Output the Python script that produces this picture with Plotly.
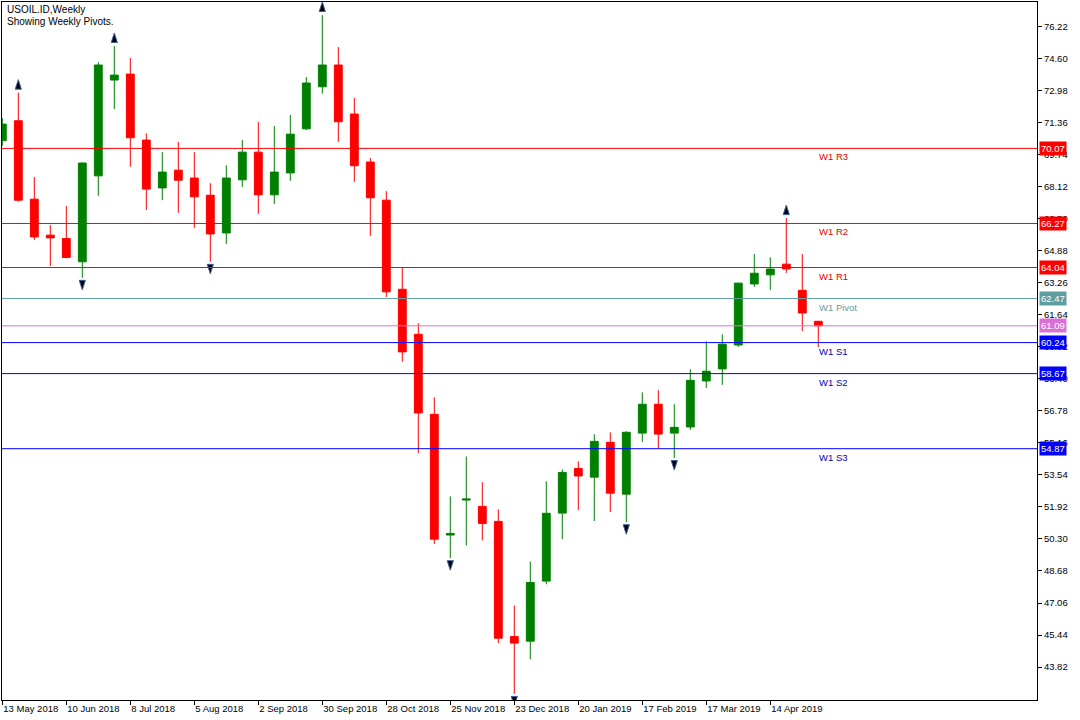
import pandas as pd
import plotly.graph_objects as go

# ---------------- data ----------------
title_line1 = "USOIL.ID,Weekly"
title_line2 = "Showing Weekly Pivots."
first_week = "2018-05-13"

open_ = [70.46, 71.47, 67.50, 65.68, 65.51, 64.33, 68.68, 73.53, 73.83, 70.49,
         68.07, 68.97, 68.57, 67.70, 65.79, 68.48, 69.88, 67.72, 68.83, 71.06,
         73.19, 74.29, 71.81, 69.38, 67.45, 62.94, 60.66, 56.61, 50.50, 52.27,
         51.95, 51.19, 45.36, 45.13, 48.17, 51.61, 53.87, 53.43, 55.19, 52.57,
         55.66, 57.12, 55.66, 55.97, 58.30, 58.91, 60.12, 63.21, 63.67, 64.21,
         62.89, 61.32]
high = [71.60, 72.89, 68.62, 66.19, 67.15, 69.35, 74.43, 75.25, 74.65, 70.83,
        69.88, 70.39, 69.88, 68.31, 69.22, 70.49, 71.40, 71.20, 71.76, 73.68,
        76.82, 75.20, 72.62, 69.58, 67.91, 64.03, 61.22, 57.47, 52.46, 54.48,
        53.17, 51.80, 46.93, 49.16, 53.22, 53.82, 54.23, 55.60, 55.70, 55.75,
        57.72, 57.83, 57.12, 58.89, 60.31, 60.66, 63.27, 64.72, 64.56, 66.54,
        64.72, 61.32]
low = [70.20, 67.37, 65.43, 64.11, 64.51, 63.52, 67.67, 72.06, 69.14, 66.95,
       67.45, 66.81, 66.05, 64.33, 65.24, 68.12, 66.76, 67.26, 68.43, 71.00,
       72.84, 70.40, 68.38, 65.64, 62.55, 59.27, 54.65, 50.04, 49.33, 49.97,
       50.23, 45.03, 42.46, 44.21, 48.01, 50.29, 51.76, 51.21, 51.66, 51.15,
       55.21, 54.87, 54.40, 55.82, 57.94, 58.10, 60.02, 63.06, 62.91, 63.77,
       60.83, 60.02]
close = [71.30, 67.45, 65.59, 65.54, 64.55, 69.33, 74.29, 73.78, 70.61, 68.01,
         68.87, 68.46, 67.62, 65.74, 68.57, 69.88, 67.72, 68.87, 70.79, 73.38,
         74.29, 71.42, 69.19, 67.57, 62.81, 59.77, 56.68, 50.29, 50.58, 52.32,
         51.09, 45.28, 45.03, 48.10, 51.60, 53.67, 53.49, 55.24, 52.62, 55.70,
         57.12, 55.61, 55.95, 58.33, 58.79, 60.16, 63.25, 63.75, 63.96, 63.97,
         61.74, 61.09]

fractal_up_idx = [1, 7, 20, 49]
fractal_down_idx = [5, 13, 28, 32, 39, 42]

x_tick_labels = ["13 May 2018", "10 Jun 2018", "8 Jul 2018", "5 Aug 2018",
                 "2 Sep 2018", "30 Sep 2018", "28 Oct 2018", "25 Nov 2018",
                 "23 Dec 2018", "20 Jan 2019", "17 Feb 2019", "17 Mar 2019",
                 "14 Apr 2019"]
y_tick_values = [76.22, 74.60, 72.98, 71.36, 69.74, 68.12, 66.50, 64.88, 63.26,
                 61.64, 60.02, 58.40, 56.78, 55.16, 53.54, 51.92, 50.30, 48.68,
                 47.06, 45.44, 43.82]

pivot_names = ["W1 R3", "W1 R2", "W1 R1", "W1 Pivot", "W1 S1", "W1 S2", "W1 S3"]
pivot_levels = [70.07, 66.27, 64.04, 62.47, 60.24, 58.67, 54.87]
pivot_line_colors = ["#FF0000", "#FF0000", "#FF0000", "#5F9EA0",
                     "#0000FF", "#0000FF", "#0000FF"]
pivot_text_colors = ["#E00000", "#E00000", "#E00000", "#5F9EA0",
                     "#0000B0", "#0000B0", "#0000B0"]
bid_price = 61.09
bid_color = "#DA70D6"

# ---------------- figure ----------------
FONT = "Liberation Sans, Arial, sans-serif"
dates = pd.date_range(first_week, periods=len(open_), freq="7D")
tick_dates = pd.date_range(first_week, periods=len(x_tick_labels), freq="28D")
week = pd.Timedelta(days=7)

fig = go.Figure()
fig.add_trace(go.Candlestick(
    x=dates, open=open_, high=high, low=low, close=close,
    increasing=dict(line=dict(color="#008000", width=1), fillcolor="#008000"),
    decreasing=dict(line=dict(color="#FF0000", width=1), fillcolor="#FF0000"),
    whiskerwidth=0, showlegend=False, hoverinfo="skip",
))

up_off = 0.66
dn_off = 0.61
fig.add_trace(go.Scatter(
    x=[dates[i] for i in fractal_up_idx],
    y=[high[i] + up_off for i in fractal_up_idx],
    mode="markers",
    marker=dict(symbol="arrow", angle=0, size=10, color="#000000",
                line=dict(width=1, color="#4060A0")),
    showlegend=False, hoverinfo="skip",
))
fig.add_trace(go.Scatter(
    x=[dates[i] for i in fractal_down_idx],
    y=[low[i] - dn_off for i in fractal_down_idx],
    mode="markers",
    marker=dict(symbol="arrow", angle=180, size=10, color="#000000",
                line=dict(width=1, color="#4060A0")),
    showlegend=False, hoverinfo="skip",
))

# pivot lines and labels
for name, lvl, lc, tc in zip(pivot_names, pivot_levels, pivot_line_colors, pivot_text_colors):
    fig.add_hline(y=lvl, line=dict(color=lc, width=1), layer="above")
    fig.add_annotation(x=dates[-1], y=lvl, xref="x", yref="y", text=name,
                       showarrow=False, xanchor="left", yanchor="top",
                       xshift=-1, yshift=-1,
                       font=dict(family=FONT, size=9.5, color=tc))
    fig.add_annotation(x=1, y=lvl, xref="paper", yref="y", text=f"{lvl:.2f}",
                       showarrow=False, xanchor="left", yanchor="middle",
                       xshift=2, bgcolor=lc, borderpad=1,
                       font=dict(family=FONT, size=9.5, color="#FFFFFF"))

fig.add_hline(y=bid_price, line=dict(color=bid_color, width=1), layer="above")
fig.add_annotation(x=1, y=bid_price, xref="paper", yref="y", text=f"{bid_price:.2f}",
                   showarrow=False, xanchor="left", yanchor="middle",
                   xshift=2, bgcolor=bid_color, borderpad=1,
                   font=dict(family=FONT, size=9.5, color="#FFFFFF"))

# title
fig.add_annotation(x=0, y=1, xref="paper", yref="paper", text=title_line1,
                   showarrow=False, xanchor="left", yanchor="top", xshift=3, yshift=0,
                   font=dict(family=FONT, size=10, color="#000000"))
fig.add_annotation(x=0, y=1, xref="paper", yref="paper", text=title_line2,
                   showarrow=False, xanchor="left", yanchor="top", xshift=3, yshift=-12,
                   font=dict(family=FONT, size=10, color="#000000"))

fig.update_layout(
    width=1080, height=720,
    margin=dict(l=2, r=43, t=2, b=20),
    paper_bgcolor="#FFFFFF", plot_bgcolor="#FFFFFF",
    font=dict(family=FONT, size=9.5, color="#000000"),
    showlegend=False,
    xaxis=dict(
        type="date",
        range=[dates[0] - 0.019 * week, dates[0] + 64.67 * week],
        rangeslider=dict(visible=False),
        showgrid=False, zeroline=False,
        showline=True, mirror=True, linecolor="#000000", linewidth=1,
        ticks="outside", ticklen=4, tickcolor="#000000", tickwidth=1,
        tickvals=tick_dates, ticktext=x_tick_labels,
        ticklabelposition="outside right",
        tickfont=dict(family=FONT, size=9.5, color="#000000"),
    ),
    yaxis=dict(
        side="right",
        range=[42.15, 77.48],
        showgrid=False, zeroline=False,
        showline=True, mirror=True, linecolor="#000000", linewidth=1,
        ticks="outside", ticklen=4, tickcolor="#000000", tickwidth=1,
        tickvals=y_tick_values, ticktext=[f"{v:.2f}" for v in y_tick_values],
        tickfont=dict(family=FONT, size=9.5, color="#000000"),
    ),
)

fig.write_html(
    "out.html",
    config={"displayModeBar": False},
    post_script="document.body.style.margin='0';document.body.style.overflow='hidden';",
)
